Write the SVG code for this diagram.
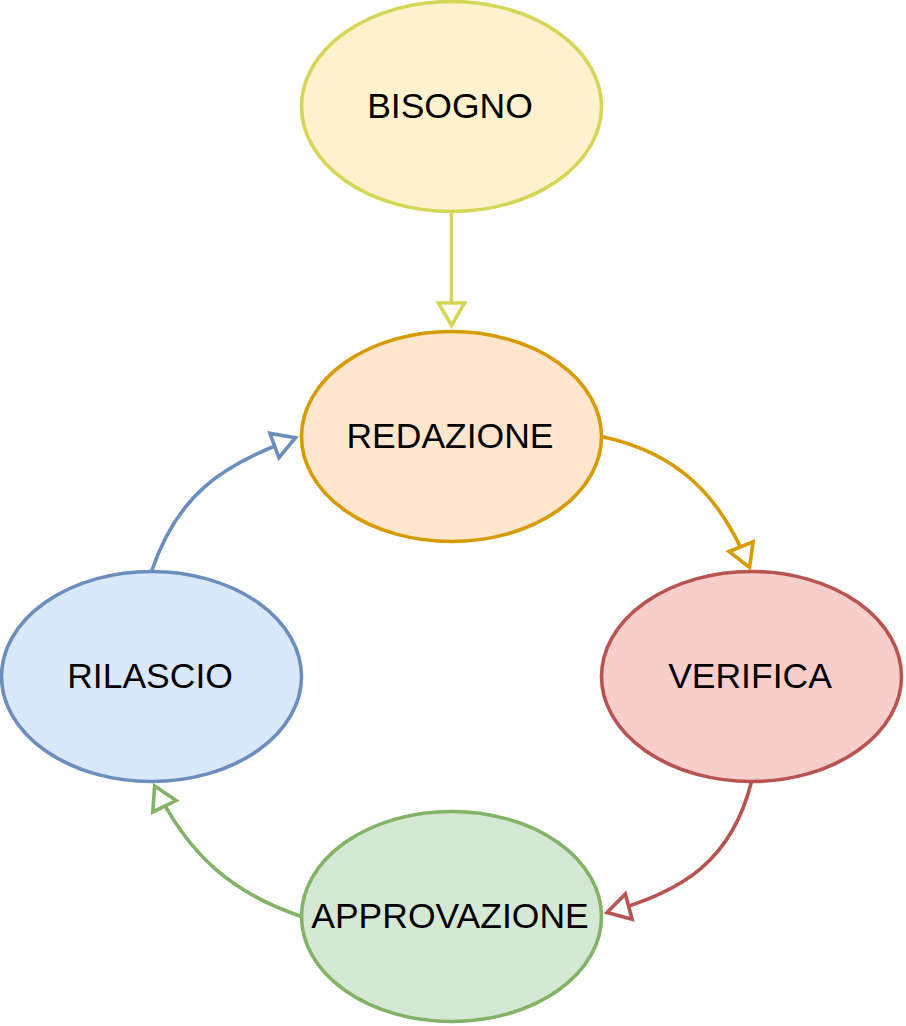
<svg xmlns="http://www.w3.org/2000/svg" width="906" height="1026" viewBox="0 0 906 1026">
<style>
.node ellipse{stroke-width:3.6}
.node text{font-family:"Liberation Sans",Arial,sans-serif;font-size:35.5px;fill:#000;text-anchor:middle}
.edge{fill:none;stroke-width:3.6}
.head{fill:#fff;stroke-width:3.6;stroke-linejoin:miter}
</style>
<defs>
<marker id="mY" markerUnits="userSpaceOnUse" orient="auto" overflow="visible" refX="0" refY="0" markerWidth="1" markerHeight="1"><path class="head" stroke="#d6d656" d="M-22.5,-13 L0,0 L-22.5,13 Z"/></marker>
<marker id="mO" markerUnits="userSpaceOnUse" orient="auto" overflow="visible" refX="0" refY="0" markerWidth="1" markerHeight="1"><path class="head" stroke="#d79b00" d="M-22.5,-13 L0,0 L-22.5,13 Z"/></marker>
<marker id="mR" markerUnits="userSpaceOnUse" orient="auto" overflow="visible" refX="0" refY="0" markerWidth="1" markerHeight="1"><path class="head" stroke="#b85450" d="M-22.5,-13 L0,0 L-22.5,13 Z"/></marker>
<marker id="mG" markerUnits="userSpaceOnUse" orient="auto" overflow="visible" refX="0" refY="0" markerWidth="1" markerHeight="1"><path class="head" stroke="#82b366" d="M-22.5,-13 L0,0 L-22.5,13 Z"/></marker>
<marker id="mB" markerUnits="userSpaceOnUse" orient="auto" overflow="visible" refX="0" refY="0" markerWidth="1" markerHeight="1"><path class="head" stroke="#6c8ebf" d="M-22.5,-13 L0,0 L-22.5,13 Z"/></marker>
</defs>
<rect width="906" height="1026" fill="#fff"/>
<g id="nodes">
<g id="bisogno" class="node"><ellipse cx="451.5" cy="106.5" rx="150" ry="105" fill="#fff2cc" stroke="#d6d656"/><text x="450" y="117.5">BISOGNO</text></g>
<g id="redazione" class="node"><ellipse cx="451.5" cy="436.5" rx="150" ry="105" fill="#ffe6cc" stroke="#d79b00"/><text x="450" y="447.5">REDAZIONE</text></g>
<g id="verifica" class="node"><ellipse cx="751.5" cy="676.5" rx="150" ry="105" fill="#f8cecc" stroke="#b85450"/><text x="750" y="687.5">VERIFICA</text></g>
<g id="approvazione" class="node"><ellipse cx="451.5" cy="916.5" rx="150" ry="105" fill="#d5e8d4" stroke="#82b366"/><text x="450" y="927.5">APPROVAZIONE</text></g>
<g id="rilascio" class="node"><ellipse cx="151.5" cy="676.5" rx="150" ry="105" fill="#dae8fc" stroke="#6c8ebf"/><text x="150" y="687.5">RILASCIO</text></g>
</g>
<g id="connectors">
<path class="edge" stroke="#d6d656" marker-end="url(#mY)" d="M451.5,211.5 L451.5,325.5"/>
<path class="edge" stroke="#d79b00" marker-end="url(#mO)" d="M601.5,436.5 C677.8,452.7 720.3,495.2 749.5,567.5"/>
<path class="edge" stroke="#b85450" marker-end="url(#mR)" d="M751.5,781.5 C732.3,859.1 684.2,891.7 607,912.5"/>
<path class="edge" stroke="#82b366" marker-end="url(#mG)" d="M301.5,916.5 C230.3,892.5 187.6,853.5 154.6,786"/>
<path class="edge" stroke="#6c8ebf" marker-end="url(#mB)" d="M151.5,571.5 C177.1,495.5 220.3,465.7 295.5,437.7"/>
</g>
</svg>
